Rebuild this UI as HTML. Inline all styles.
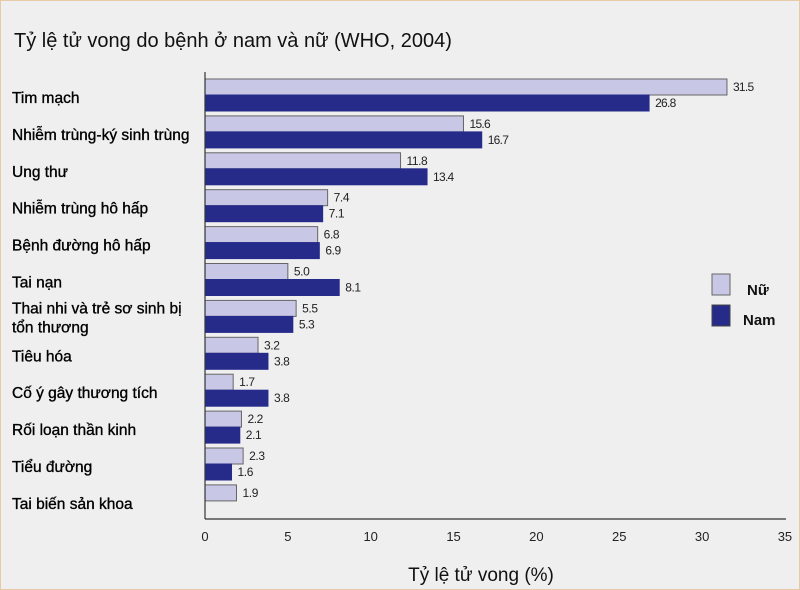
<!DOCTYPE html>
<html><head><meta charset="utf-8"><style>
body{margin:0;background:#fff}
#wrap{position:relative;width:800px;height:590px;background:#efefef;font-family:"Liberation Sans","DejaVu Sans",sans-serif;overflow:hidden}
</style></head><body>
<div id="wrap">
<svg id="chart" width="800" height="590" style="position:absolute;left:0;top:0">
<rect x="0.5" y="0.5" width="799" height="589" fill="none" stroke="#e8c9a8"/>
<text x="14" y="47" font-size="20" fill="#111">Tỷ lệ tử vong do bệnh ở nam và nữ (WHO, 2004)</text>
<g id="bars"></g>
<line x1="205" y1="72" x2="205" y2="519" stroke="#333" stroke-width="1.2"/>
<line x1="205" y1="519" x2="786" y2="519" stroke="#333" stroke-width="1.2"/>
<g id="xticks"></g>
<text x="481" y="581" font-size="19" text-anchor="middle" fill="#111">Tỷ lệ tử vong (%)</text>
<rect x="712" y="274" width="18" height="21" fill="#c8c8e6" stroke="#666"/>
<text x="747" y="295" font-size="15" font-weight="bold" fill="#111">Nữ</text>
<rect x="712" y="305" width="18" height="21" fill="#262b8a" stroke="#444"/>
<text x="743" y="325" font-size="15" font-weight="bold" fill="#111">Nam</text>
</svg>
</div>
<script>
const categories=["Tim mạch","Nhiễm trùng-ký sinh trùng","Ung thư","Nhiễm trùng hô hấp","Bệnh đường hô hấp","Tai nạn","Thai nhi và trẻ sơ sinh bị|tổn thương","Tiêu hóa","Cố ý gây thương tích","Rối loạn thần kinh","Tiểu đường","Tai biến sản khoa"];
const femaleValues=[31.5,15.6,11.8,7.4,6.8,5.0,5.5,3.2,1.7,2.2,2.3,1.9];
const maleValues=[26.8,16.7,13.4,7.1,6.9,8.1,5.3,3.8,3.8,2.1,1.6,null];
const xTicks=[0,5,10,15,20,25,30,35];
const NS="http://www.w3.org/2000/svg";
const x0=205,xScale=16.57,rowTop=79,rowPitch=36.9,barH=16;
const xPos=v=>x0+v*xScale;
const rowY=i=>rowTop+i*rowPitch;
const bars=document.getElementById('bars'),ticks=document.getElementById('xticks');
function mk(tag,attrs,parent){const e=document.createElementNS(NS,tag);for(const k in attrs)e.setAttribute(k,attrs[k]);parent.appendChild(e);return e;}
categories.forEach((c,i)=>{
  const y=rowY(i);
  const lines=c.split('|');
  lines.forEach((ln,j)=>{
    const t=mk('text',{x:12,y:(lines.length>1?y+13+j*19:y+24),'font-size':15.5,fill:'#000',stroke:'#000','stroke-width':0.35},bars);
    t.textContent=ln;
    
    
  });
  [[femaleValues[i],'#c8c8e6','#666',0,'nu'],[maleValues[i],'#262b8a','#262b8a',barH,'nam']].forEach(([v,f,s,off,key])=>{
    if(v==null)return;
    const r=mk('rect',{x:x0,y:y+off,width:xPos(v)-x0,height:barH,fill:f,stroke:s,'stroke-width':1},bars);
    
    
    const t=mk('text',{x:xPos(v)+6,y:y+off+12,'font-size':12,fill:'#222',textLength:(v.toFixed(1).length*5.3)},bars);
    t.textContent=v.toFixed(1);
    
    
  });
});
xTicks.forEach(v=>{
  const t=mk('text',{x:xPos(v),y:541,'font-size':13,'text-anchor':'middle',fill:'#222'},ticks);
  t.textContent=v;
  
  
});
</script>
</body></html>
